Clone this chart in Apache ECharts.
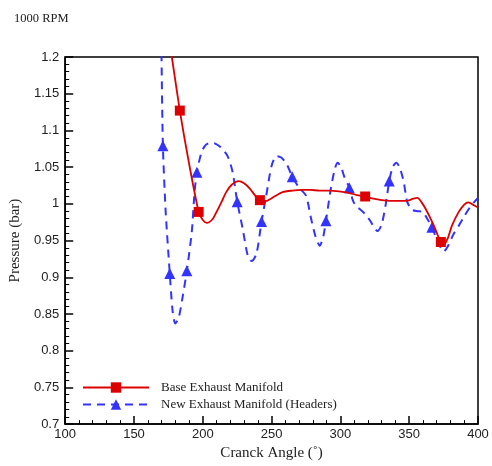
<!DOCTYPE html>
<html>
<head>
<meta charset="utf-8">
<script src="https://cdn.jsdelivr.net/npm/echarts@6/dist/echarts.min.js"></script>
<style>html,body{margin:0;padding:0;background:#fff;}#c{width:492px;height:466px;}</style>
</head>
<body>
<div id="c"></div>
<script>
// Base Exhaust Manifold: curve points [crank angle, pressure]
const baseCurve = [
  [175,1.228],[177.5,1.2],[183.3,1.127],[190,1.055],[197,0.989],[200,0.978],[203,0.974],[207,0.979],
  [210,0.989],[214,1.004],[217,1.016],[221,1.026],[226,1.031],[230,1.028],[234,1.021],[239,1.009],
  [241.5,1.005],[246,1.004],[252,1.010],[258,1.016],[265,1.018],[272,1.019],[278,1.019],[285,1.018],
  [292,1.018],[299,1.017],[306,1.015],[312,1.012],[318,1.010],[324,1.007],[330,1.005],[336,1.004],
  [342,1.004],[348,1.004],[353,1.007],[356,1.008],[359,1.002],[362,0.993],[365,0.982],[368,0.970],
  [371,0.956],[373,0.948],[375,0.944],[378,0.953],[381,0.970],[386,0.989],[390,0.999],[393,1.002],
  [397,0.998],[400,0.995]
];
const baseMarkers = [183.3,197,241.5,318,373];

// New Exhaust Manifold (Headers): curve points
const headerCurve = [
  [169.5,1.30],[170,1.2],[171,1.079],[173,0.99],[176,0.905],[178,0.855],[180,0.837],[182.5,0.845],
  [185.5,0.875],[188.4,0.909],[192,0.962],[194,1.016],[195.7,1.043],[199,1.070],[202,1.080],[205,1.083],
  [209,1.082],[213,1.077],[218,1.065],[221.7,1.043],[225,1.003],[229,0.966],[232.6,0.930],[235.5,0.922],
  [239,0.932],[242.7,0.976],[246,1.010],[250,1.052],[253.6,1.065],[257,1.063],[261,1.054],[265,1.037],
  [270,1.022],[275,1.011],[278.8,0.979],[282,0.955],[285,0.943],[287.5,0.955],[289.5,0.977],[293,1.020],
  [296,1.048],[298,1.056],[300.5,1.050],[303,1.036],[306.5,1.022],[309,1.005],[311.5,0.996],[314,0.993],
  [318,0.986],[322,0.976],[325,0.966],[327,0.963],[330,0.972],[333,1.000],[335.5,1.031],[338,1.050],
  [340.6,1.056],[343,1.050],[346,1.030],[348.5,1.003],[352,0.992],[356,0.990],[360,0.989],[363,0.980],
  [366.5,0.968],[370,0.952],[373,0.940],[375,0.935],[378,0.942],[382,0.958],[386,0.970],[390,0.983],
  [394,0.995],[397,1.002],[400,1.008]
];
const headerMarkers = [171,176,188.4,195.7,225,242.7,265,289.5,306.5,335.5,366.5];

const xTicks = {min:100, max:400, interval:50};
const yTicks = {min:0.7, max:1.2, interval:0.05};

function withMarkers(curve, markers) {
  return curve.map(p => markers.indexOf(p[0]) >= 0 ? {value:p} : {value:p, symbol:'none'});
}

const serif = '"Liberation Serif","DejaVu Serif",serif';
const sans = '"Liberation Sans",Arial,sans-serif';

const chart = echarts.init(document.getElementById('c'), null, {renderer:'canvas'});
chart.setOption({
  animation:false,
  backgroundColor:'#fff',
  title:{text:'1000 RPM', left:9, top:7, textStyle:{fontFamily:serif, fontSize:12.5, fontWeight:'normal', color:'#222'}},
  grid:{left:65, right:14, top:57, bottom:40, show:true, borderColor:'#000', borderWidth:1.5},
  legend:{
    left:82, top:381, padding:0, orient:'vertical', itemWidth:66, itemHeight:13, itemGap:4,
    textStyle:{fontFamily:serif, fontSize:13, color:'#222', padding:[0,0,0,7]},
    data:['Base Exhaust Manifold','New Exhaust Manifold (Headers)']
  },
  xAxis:{
    type:'value', min:xTicks.min, max:xTicks.max, interval:xTicks.interval,
    name:'Cranck Angle (\u02DA)', nameLocation:'middle', nameGap:18,
    nameTextStyle:{fontFamily:serif, fontSize:15, color:'#222', verticalAlign:'top'},
    axisLine:{show:true, lineStyle:{color:'#000', width:1.5}},
    axisTick:{show:true, inside:true, length:8, lineStyle:{color:'#000', width:1.5}},
    minorTick:{show:true, splitNumber:5, length:4, lineStyle:{color:'#000', width:1}},
    splitLine:{show:false},
    axisLabel:{fontFamily:sans, fontSize:13, color:'#222', margin:4}
  },
  yAxis:{
    type:'value', min:yTicks.min, max:yTicks.max, interval:yTicks.interval,
    name:'Pressure (bar)', nameLocation:'middle', nameGap:39,
    nameTextStyle:{fontFamily:serif, fontSize:15, color:'#222'},
    axisLine:{show:true, lineStyle:{color:'#000', width:1.5}},
    axisTick:{show:true, inside:true, length:8, lineStyle:{color:'#000', width:1.5}},
    minorTick:{show:true, splitNumber:5, length:4, lineStyle:{color:'#000', width:1}},
    splitLine:{show:false},
    axisLabel:{fontFamily:sans, fontSize:13, color:'#222', margin:6,
      formatter:v => String(parseFloat(v.toFixed(2)))}
  },
  series:[
    {
      name:'Base Exhaust Manifold', type:'line', smooth:0.25, clip:true,
      symbol:'rect', symbolSize:10, showAllSymbol:true,
      lineStyle:{color:'#dd0000', width:1.8},
      itemStyle:{color:'#dd0000'},
      data:withMarkers(baseCurve, baseMarkers), z:3
    },
    {
      name:'New Exhaust Manifold (Headers)', type:'line', smooth:0.25, clip:true,
      symbol:'triangle', symbolSize:11, showAllSymbol:true,
      lineStyle:{color:'#3333ff', width:2, type:[8,6]},
      itemStyle:{color:'#3333ff'},
      data:withMarkers(headerCurve, headerMarkers), z:2
    }
  ]
});
</script>
</body>
</html>
